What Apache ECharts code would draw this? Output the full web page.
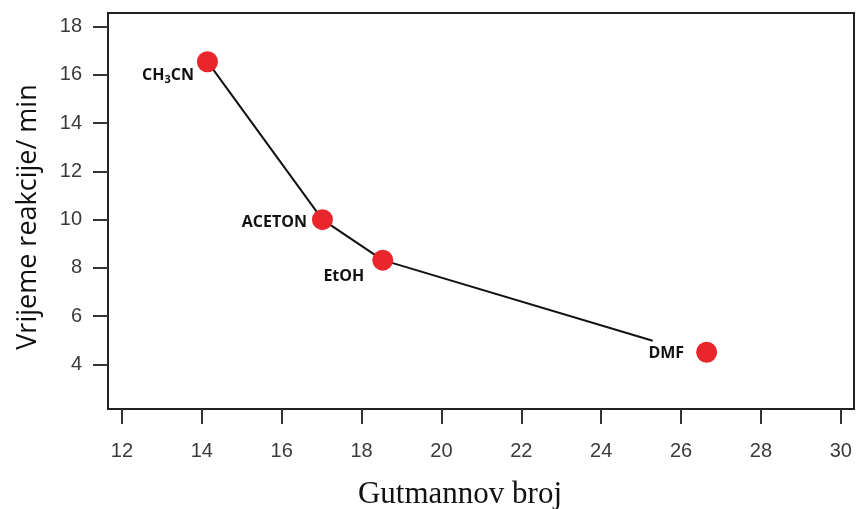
<!DOCTYPE html>
<html><head><meta charset="utf-8">
<script src="https://cdn.jsdelivr.net/npm/echarts@6/dist/echarts.min.js"></script>
<style>html,body{margin:0;padding:0;background:#fff}#c{width:858px;height:509px}</style>
</head><body><div id="c"></div>
<script>
const solvents = ['CH3CN', 'ACETON', 'EtOH', 'DMF'];
const gutmann = [14.14, 17.02, 18.53, 26.64];
const reactionTime = [16.55, 10.0, 8.32, 4.50];
// trend line (ends short of DMF point, as in the original)
const trendX = [14.14, 17.02, 18.53, 25.29];
const trendY = [16.55, 10.0, 8.32, 4.98];
const xTicks = [12, 14, 16, 18, 20, 22, 24, 26, 28, 30];
const yTicks = [4, 6, 8, 10, 12, 14, 16, 18];

const labelPlace = {
  'CH3CN': {distance: 3, offset: [0, 14]},
  'ACETON': {distance: 5, offset: [0, 3]},
  'EtOH': {distance: 8, offset: [0, 16]},
  'DMF': {distance: 12, offset: [0, 1]}
};

const chart = echarts.init(document.getElementById('c'), null, {renderer: 'canvas'});
const axisCommon = {
  axisLine: {show: true, onZero: false, lineStyle: {color: '#222', width: 2}},
  axisTick: {show: true, length: 15, lineStyle: {color: '#333', width: 2}},
  splitLine: {show: false},
  axisLabel: {color: '#3a3a3a', fontSize: 20, fontFamily: 'Liberation Sans, Arial, sans-serif'}
};
chart.setOption({
  animation: false,
  grid: {left: 108, right: 4, top: 13, bottom: 100, show: true, borderColor: '#222', borderWidth: 2, backgroundColor: '#fff', containLabel: false, outerBoundsMode: 'none'},
  xAxis: Object.assign({}, axisCommon, {
    type: 'value', min: 11.65, max: 30.33,
    name: 'Gutmannov broj', nameLocation: 'middle', nameGap: 70,
    nameTextStyle: {fontFamily: 'Liberation Serif, Times New Roman, serif', fontSize: 31, color: '#111', padding: [0, 42, 0, 0]},
    axisTick: Object.assign({}, axisCommon.axisTick, {customValues: xTicks}),
    axisLabel: Object.assign({}, axisCommon.axisLabel, {customValues: xTicks, margin: 32})
  }),
  yAxis: Object.assign({}, axisCommon, {
    type: 'value', min: 2.146, max: 18.57,
    name: 'Vrijeme reakcije/ min', nameLocation: 'middle', nameGap: 66, nameRotate: 90,
    nameTextStyle: {fontFamily: 'Open Sans, sans-serif', fontSize: 27, color: '#111', padding: [0, 12, 0, 0]},
    axisTick: Object.assign({}, axisCommon.axisTick, {customValues: yTicks}),
    axisLabel: Object.assign({}, axisCommon.axisLabel, {customValues: yTicks, margin: 26})
  }),
  series: [
    {
      type: 'line',
      data: trendX.map((x, i) => [x, trendY[i]]),
      symbol: 'none',
      lineStyle: {color: '#111', width: 2},
      z: 2
    },
    {
      type: 'scatter',
      symbolSize: 21,
      itemStyle: {color: '#e8262c', opacity: 1},
      z: 3,
      data: solvents.map((name, i) => ({
        name: name,
        value: [gutmann[i], reactionTime[i]],
        label: {
          show: true,
          position: 'left',
          distance: labelPlace[name].distance,
          offset: labelPlace[name].offset,
          formatter: name === 'CH3CN' ? '{b|CH}{s|3}{b|CN}' : '{b|' + name + '}',
          rich: {
            b: {fontFamily: 'Open Sans, sans-serif', fontWeight: 'bold', fontSize: 16, color: '#111'},
            s: {fontFamily: 'Open Sans, sans-serif', fontWeight: 'bold', fontSize: 11, color: '#111', padding: [8, 0, 0, 0]}
          }
        }
      }))
    }
  ]
});
</script></body></html>
